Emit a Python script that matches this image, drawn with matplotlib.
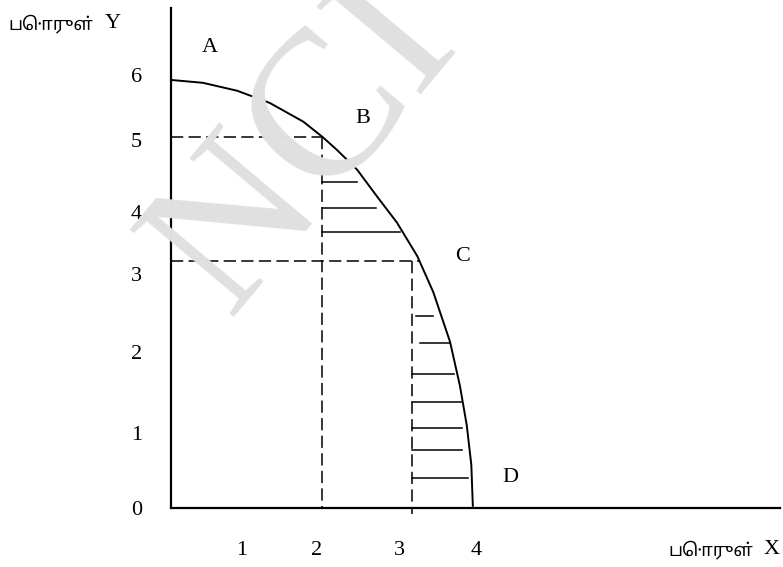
import matplotlib
matplotlib.use("Agg")
import matplotlib.pyplot as plt
import matplotlib.font_manager as fm

# production possibility curve (goods X vs goods Y)
curve_x = [0, 0.42, 0.87, 1.30, 1.74, 1.99, 2.18, 2.45, 2.71, 2.97, 3.24, 3.45, 3.67, 3.80, 3.89, 3.95, 3.97]
curve_y = [5.92, 5.88, 5.77, 5.60, 5.34, 5.13, 4.95, 4.67, 4.30, 3.94, 3.47, 2.97, 2.28, 1.67, 1.12, 0.57, 0]

# point B and C guide lines
b_x, b_y = 1.99, 5.13
c_x, c_y, c_end = 3.17, 3.40, 3.28

# hatch lines: y, start x, end x
hatch_y = [4.50, 4.14, 3.80, 2.64, 2.27, 1.83, 1.45, 1.08, 0.77, 0.39]
hatch_x0 = [1.99, 1.99, 1.99, 3.22, 3.27, 3.17, 3.17, 3.17, 3.17, 3.17]
hatch_x1 = [2.44, 2.69, 3.01, 3.44, 3.67, 3.72, 3.83, 3.83, 3.83, 3.90]

ytick_pos = [-0.03, 1.01, 2.14, 3.22, 4.09, 5.09, 5.99]
ytick_lab = ['0', '1', '2', '3', '4', '5', '6']
xtick_pos = [0.93, 1.92, 3.01, 4.02]
xtick_lab = ['1', '2', '3', '4']

points = ['A', 'B', 'C', 'D']
point_x = [0.51, 2.52, 3.83, 4.46]
point_y = [6.37, 5.39, 3.47, 0.39]

serif = ['Liberation Serif', 'DejaVu Serif']
tamil = ['Noto Sans Tamil', 'Noto Serif Tamil', 'Lohit Tamil', 'Latha', 'Liberation Serif', 'DejaVu Sans']
avail = set(f.name for f in fm.fontManager.ttflist)
tamil = [f for f in tamil if f in avail]

fig = plt.figure(figsize=(7.83, 5.67), dpi=100)
ax = fig.add_axes([171/783, 59/567, 609/783, 500/567])
ax.set_xlim(0, 8.01)
ax.set_ylim(0, 6.92)

# faint watermark
fig.text(0.39, 0.74, 'NCI', fontsize=150, color='#e0e0e0', rotation=50,
         family=serif, ha='center', va='center', zorder=0)

ax.patch.set_alpha(0)
for s in ['top', 'right']:
    ax.spines[s].set_visible(False)
for s in ['left', 'bottom']:
    ax.spines[s].set_linewidth(1.6)

ax.plot(curve_x, curve_y, color='black', lw=1.4)

dash = (0, (8, 3.5))
ax.plot([0, b_x], [b_y, b_y], color='black', lw=1.1, ls=dash)
ax.plot([b_x, b_x], [b_y, -0.03], color='black', lw=1.1, ls=dash, clip_on=False)
ax.plot([0, c_end], [c_y, c_y], color='black', lw=1.1, ls=dash)
ax.plot([c_x, c_x], [c_y, -0.12], color='black', lw=1.1, ls=dash, clip_on=False)

for y, x0, x1 in zip(hatch_y, hatch_x0, hatch_x1):
    ax.plot([x0, x1], [y, y], color='black', lw=1.1)

for t, x, y in zip(points, point_x, point_y):
    ax.text(x, y, t, fontsize=16, family=serif, ha='center', va='center')

ax.set_yticks(ytick_pos, ytick_lab)
ax.set_xticks(xtick_pos, xtick_lab)
ax.tick_params(axis='y', length=0, pad=21, labelsize=16)
ax.tick_params(axis='x', length=0, pad=24, labelsize=16)
for lab in ax.get_xticklabels() + ax.get_yticklabels():
    lab.set_family(serif)

fig.text(8/783, 1 - 24/567, 'பொருள்', fontsize=13, family=tamil, ha='left', va='center')
fig.text(113/783, 1 - 24/567, 'Y', fontsize=16, family=serif, ha='center', va='center')
fig.text(668/783, 1 - 550/567, 'பொருள்', fontsize=13, family=tamil, ha='left', va='center')
fig.text(772/783, 1 - 550/567, 'X', fontsize=16, family=serif, ha='center', va='center')

fig.savefig('out.png', dpi=100)
